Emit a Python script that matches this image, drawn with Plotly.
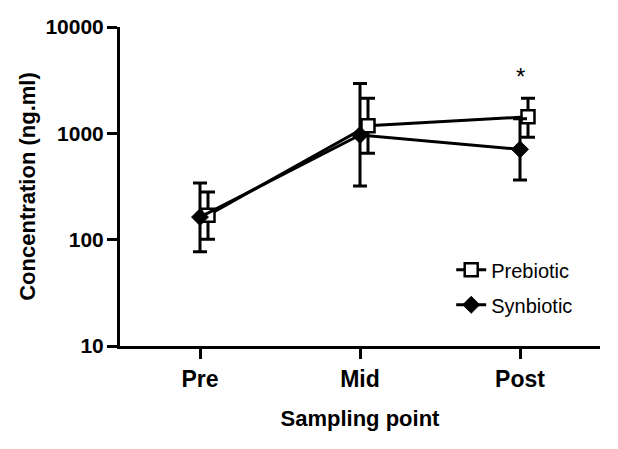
import plotly.graph_objects as go

categories = ["Pre", "Mid", "Post"]
prebiotic_mean = [170, 1180, 1430]
prebiotic_upper = [280, 2140, 2140]
prebiotic_lower = [101, 650, 917]
synbiotic_mean = [163, 965, 707]
synbiotic_upper = [341, 2950, 1370]
synbiotic_lower = [77, 320, 364]
y_tick_vals = [10, 100, 1000, 10000]
y_tick_text = ["10", "100", "1000", "10000"]

FONT = "Liberation Sans, Arial, sans-serif"
idx = list(range(len(categories)))
pre_x = [i + 0.05 for i in idx]
syn_x = [i for i in idx]

fig = go.Figure()
fig.add_trace(go.Scatter(
    x=pre_x, y=prebiotic_mean, name="Prebiotic", mode="lines+markers",
    legendgroup="a",
    line=dict(color="black", width=3),
    marker=dict(symbol="square", size=13, color="white", line=dict(color="black", width=2.5)),
    error_y=dict(type="data", symmetric=False,
                 array=[u - m for u, m in zip(prebiotic_upper, prebiotic_mean)],
                 arrayminus=[m - l for m, l in zip(prebiotic_mean, prebiotic_lower)],
                 color="black", thickness=3, width=7),
))
fig.add_trace(go.Scatter(
    x=syn_x, y=synbiotic_mean, name="Synbiotic", mode="lines+markers",
    legendgroup="b",
    line=dict(color="black", width=3),
    marker=dict(symbol="diamond", size=13, color="black", line=dict(color="black", width=1)),
    error_y=dict(type="data", symmetric=False,
                 array=[u - m for u, m in zip(synbiotic_upper, synbiotic_mean)],
                 arrayminus=[m - l for m, l in zip(synbiotic_mean, synbiotic_lower)],
                 color="black", thickness=3, width=7),
))

fig.add_annotation(x=2, y=3.53, xref="x", yref="y", text="*", showarrow=False,
                   font=dict(family=FONT, size=24, color="black"))

fig.update_layout(
    width=618, height=449,
    margin=dict(l=112, r=26, t=19, b=111, autoexpand=False),
    paper_bgcolor="white", plot_bgcolor="white",
    font=dict(family=FONT, color="black"),
    showlegend=True,
    legend=dict(x=0.69, y=0.30, xanchor="left", yanchor="top",
                font=dict(family=FONT, size=20, color="black"),
                bgcolor="rgba(0,0,0,0)", tracegroupgap=6, traceorder="grouped"),
    xaxis=dict(
        range=[-0.5, 2.5], tickmode="array", tickvals=idx, ticktext=categories,
        showgrid=False, zeroline=False, showline=True, linecolor="black", linewidth=3,
        ticks="outside", ticklen=10, tickwidth=3, tickcolor="black", automargin=False,
        tickfont=dict(family=FONT, size=23, color="black", weight="bold"),
        title=dict(text="<b>Sampling point</b>", font=dict(family=FONT, size=22, color="black"), standoff=21),
    ),
    yaxis=dict(
        type="log", range=[1, 4], tickmode="array", tickvals=y_tick_vals, ticktext=y_tick_text,
        showgrid=False, zeroline=False, showline=True, linecolor="black", linewidth=3,
        ticks="outside", ticklen=10, tickwidth=3, tickcolor="black", automargin=False,
        ticklabelstandoff=-1,
        tickfont=dict(family=FONT, size=21, color="black", weight="bold"),
        title=dict(text="<b>Concentration (ng.ml)</b>", font=dict(family=FONT, size=22, color="black"), standoff=4),
    ),
)

fig.write_html("out.html")
